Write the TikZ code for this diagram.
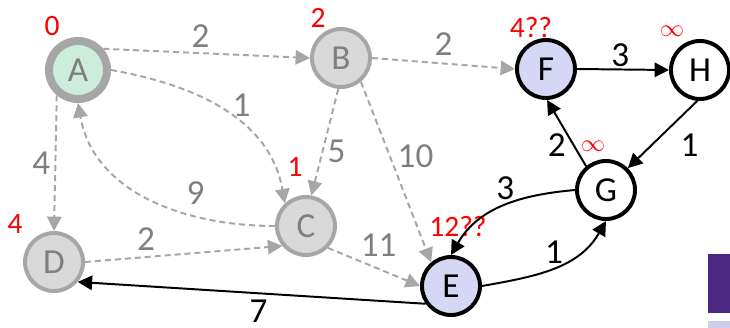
\documentclass[tikz,border=0pt]{standalone}
\usepackage{fontspec}
\setmainfont{Carlito}
\usepackage{tikz}
\usetikzlibrary{arrows.meta}
\definecolor{gline}{HTML}{A6A6A6}
\definecolor{gtext}{HTML}{7F7F7F}
\definecolor{gfill}{HTML}{D9D9D9}
\definecolor{mint}{HTML}{CCEDDC}
\definecolor{lav}{HTML}{D6D6F5}
\definecolor{plum}{HTML}{4B2882}
\definecolor{lilac}{HTML}{CDCDEE}

\begin{document}
\begin{tikzpicture}[x=0.025cm, y=-0.025cm, every node/.style={font=\fontsize{25}{30}\selectfont},
   vtx/.style={circle, minimum size=1.45cm, inner sep=0pt},
   vseen/.style={vtx, draw=gline, fill=gfill, line width=2.8pt, text=gtext},
   vsrc/.style={vseen, fill=mint, line width=5.7pt},
   vfront/.style={vtx, draw=black, fill=lav, line width=2.8pt},
   vnew/.style={vfront, fill=white},
   darr/.style={-{Triangle[length=3.6mm, width=3.6mm]}, draw=gline, line width=1.4pt, dash pattern=on 4.3pt off 2.8pt},
   karr/.style={-{Triangle[length=3.6mm, width=3.6mm]}, draw=black, line width=1.4pt},
   glbl/.style={text=gtext, inner sep=1pt},
   klbl/.style={inner sep=1pt},
   dist/.style={text=red, font=\fontsize{21}{24}\selectfont, inner sep=0pt},
   inf/.style={dist, font=\fontsize{17}{20}\selectfont}]
  \useasboundingbox (0,0) rectangle (730,328);
  \node[vsrc]   (A) at (78,70)   {A};
  \node[vseen]  (B) at (341,58)  {B};
  \node[vseen]  (C) at (306,226) {C};
  \node[vseen]  (D) at (54,262)  {D};
  \node[vfront] (E) at (451,286) {E};
  \node[vfront] (F) at (546,69)  {F};
  \node[vnew]   (G) at (606,190) {G};
  \node[vnew]   (H) at (700,70)  {H};
  \node[dist] (dA) at (52,26)   {0};
  \node[dist] (dB) at (318,18)  {2};
  \node[dist] (dC) at (295,167) {1};
  \node[dist] (dD) at (15,224)  {4};
  \node[dist] (dE) at (458,227) {12??};
  \node[dist] (dF) at (531,28)  {4??};
  \node[inf]  (dG) at (593,146) {$\infty$};
  \node[inf]  (dH) at (672,31)  {$\infty$};
  \draw[darr] (A.40) -- node[glbl, pos=0.47, above=2pt] (wAB) {2} (B.west);
  \draw[darr] (A.east) to[out=-10, in=100] node[glbl, pos=0.6, above=4pt] (wAC) {1} (C.133);
  \draw[darr] (C.west) to[out=180, in=-80] node[glbl, pos=0.3, above=7pt] (wCA) {9} (A.south);
  \draw[darr] (A.-130) -- node[glbl, pos=0.5, left=2pt] (wAD) {4} (D.north);
  \draw[darr] (B.-95) -- node[glbl, pos=0.59, right=2pt] (wBC) {5} (C.80);
  \draw[darr] (B.-50) -- node[glbl, pos=0.41, right=4pt] (wBE) {10} (E.130);
  \draw[darr] (B.east) -- node[glbl, pos=0.5, above=4pt] (wBF) {2} (F.west);
  \draw[darr] (D.east) -- node[glbl, pos=0.31, above=3pt] (wDC) {2} (C.-140);
  \draw[darr] (C.-45) -- node[glbl, pos=0.55, above=7pt] (wCE) {11} (E.west);
  \draw[karr] (E.-145) -- node[klbl, pos=0.48, below=3pt] (wED) {7} (D.-40);
  \draw[karr] (E.east) to[out=10, in=-120] node[klbl, pos=0.5, above=1.5pt] (wEG) {1} (G.south);
  \draw[karr] (G.west) to[out=185, in=60] node[klbl, pos=0.48, above=2pt] (wGE) {3} (E.north);
  \draw[karr] (G.130) -- node[klbl, pos=0.32, left=4pt] (wGF) {2} (F.-88);
  \draw[karr] (F.east) -- node[klbl, pos=0.47, above=0.5pt] (wFH) {3} (H.west);
  \draw[karr] (H.-95) -- node[klbl, pos=0.66, right=19pt] (wHG) {1} (G.45);
  \fill[plum] (708,254) rectangle (730,313);
  \fill[lilac] (708,321) rectangle (730,328);
\end{tikzpicture}
\end{document}
